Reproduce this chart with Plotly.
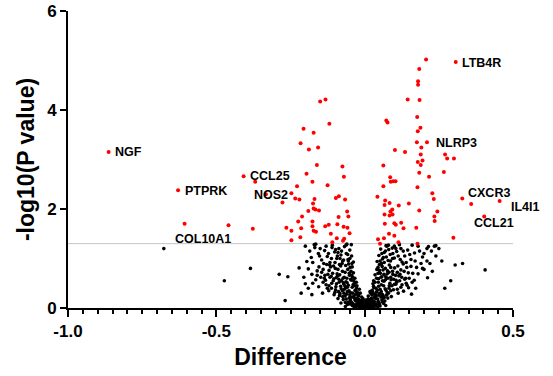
import plotly.graph_objects as go

# ---------------- data ----------------
gene_names = ["NGF", "PTPRK", "COL10A1", "CCL25", "NOS2", "LTB4R", "NLRP3", "CXCR3", "IL4I1", "CCL21"]
gene_x = [-0.863, -0.629, -0.607, -0.408, -0.333, 0.307, 0.210, 0.329, 0.455, 0.403]
gene_y = [3.15, 2.38, 1.70, 2.66, 2.30, 4.97, 3.35, 2.21, 2.16, 1.85]

red_x = [-0.459, -0.377, -0.369, -0.150, -0.132, -0.119, -0.206, -0.172, -0.216, -0.188, -0.157, -0.161,
         -0.075, -0.070, -0.196, -0.176, -0.125, -0.228, -0.247, -0.277, -0.234, -0.220, -0.169, -0.174,
         -0.097, -0.087, -0.066, -0.172, -0.166, -0.154, -0.190, -0.211, -0.059, -0.055, -0.088, -0.224,
         -0.176, -0.264, -0.247, -0.214, -0.176, -0.133, -0.121, -0.092, -0.071, -0.058, -0.172, -0.164,
         -0.114, -0.051, -0.217, -0.247, -0.094, -0.069, -0.109, -0.073,
         0.207, 0.184, 0.180, 0.180, 0.145, 0.185, 0.073, 0.077, 0.177, 0.188, 0.179, 0.176, 0.191, 0.102,
         0.136, 0.189, 0.195, 0.179, 0.189, 0.063, 0.267, 0.271, 0.278, 0.301, 0.184, 0.217, 0.086, 0.088,
         0.096, 0.104, 0.063, 0.178, 0.228, 0.043, 0.233, 0.069, 0.084, 0.067, 0.115, 0.149, 0.093, 0.087,
         0.184, 0.245, 0.067, 0.084, 0.094, 0.235, 0.236, 0.100, 0.105, 0.123, 0.068, 0.131, 0.174, 0.082,
         0.100, 0.065, 0.045, 0.114, 0.178, 0.052, 0.359, 0.299]
red_y = [1.67, 1.60, 2.55, 4.17, 4.21, 3.72, 3.62, 3.54, 3.33, 3.20, 3.24, 2.89,
         2.86, 2.65, 2.71, 2.55, 2.48, 2.46, 2.32, 2.13, 2.21, 2.19, 2.20, 2.11,
         2.22, 2.26, 2.19, 2.01, 1.99, 1.97, 1.96, 1.85, 1.95, 1.85, 1.84, 1.75,
         1.75, 1.62, 1.56, 1.61, 1.65, 1.65, 1.68, 1.69, 1.64, 1.62, 1.56, 1.54,
         1.50, 1.51, 1.43, 1.37, 1.41, 1.40, 1.33, 1.36,
         5.02, 4.83, 4.58, 4.51, 4.21, 4.20, 3.79, 3.75, 3.86, 3.64, 3.57, 3.35, 3.24, 3.19,
         3.15, 3.10, 2.98, 2.95, 2.89, 2.88, 2.75, 3.10, 3.02, 3.02, 2.73, 2.65, 2.64, 2.55,
         2.56, 2.56, 2.46, 2.44, 2.32, 2.25, 2.20, 2.17, 2.12, 2.08, 2.07, 2.11, 1.99, 1.95,
         1.97, 1.95, 1.89, 1.87, 1.89, 1.85, 1.76, 1.71, 1.68, 1.72, 1.70, 1.61, 1.62, 1.50,
         1.46, 1.41, 1.39, 1.33, 1.30, 1.30, 2.10, 1.42]

black_x = [
    -0.045, -0.038, -0.032, -0.028, -0.024, -0.020, -0.017, -0.014, -0.011, -0.008, -0.005, -0.003, 0.000,
    0.003, 0.006, 0.009, 0.012, 0.015, 0.018, 0.021, 0.025, 0.029, 0.033, 0.037, 0.041, 0.046, 0.052,
    -0.052, -0.058, 0.058, -0.065, 0.064, -0.072, 0.071, -0.080, 0.078, -0.006, 0.002, -0.013, 0.011,
    -0.035, 0.027, 0.044,
    -0.010, -0.015, -0.022, -0.030, -0.036, -0.042, -0.048, -0.055, -0.061, -0.068, -0.074, -0.081,
    -0.088, -0.095, -0.103, -0.112, -0.121, -0.130, -0.142, -0.155, -0.026, -0.050, -0.064, -0.085, -0.098,
    0.012, 0.018, 0.024, 0.031, 0.037, 0.043, 0.050, 0.056, 0.062, 0.069, 0.076, 0.083, 0.090, 0.097,
    0.105, 0.113, 0.122, 0.131, 0.143, 0.158, 0.172, 0.028, 0.047, 0.066, 0.088,
    -0.028, -0.033, -0.038, -0.045, -0.051, -0.057, -0.063, -0.069, -0.075, -0.081, -0.087, -0.093,
    -0.099, -0.106, -0.113, -0.120, -0.128, -0.136, -0.145, -0.154, -0.165, -0.178, -0.190, -0.205,
    -0.042, -0.054, -0.072, -0.096, -0.118, -0.140,
    0.030, 0.035, 0.041, 0.047, 0.053, 0.059, 0.065, 0.071, 0.077, 0.083, 0.089, 0.095, 0.101, 0.108,
    0.115, 0.122, 0.130, 0.138, 0.147, 0.156, 0.167, 0.180, 0.195, 0.212, 0.228, 0.050, 0.062, 0.085,
    0.110, 0.142,
    -0.038, -0.044, -0.050, -0.056, -0.062, -0.068, -0.074, -0.080, -0.087, -0.094, -0.101, -0.109,
    -0.117, -0.126, -0.135, -0.145, -0.156, -0.168, -0.180, -0.195, -0.045, -0.060, -0.063, -0.170, -0.165,
    0.042, 0.048, 0.054, 0.060, 0.066, 0.072, 0.079, 0.086, 0.093, 0.100, 0.108, 0.117, 0.126, 0.135,
    0.145, 0.156, 0.168, 0.180, 0.195, 0.210, 0.225, 0.235, 0.240, 0.215, 0.250,
    -0.677, -0.385, -0.473, -0.288, -0.259, -0.268, -0.221, -0.214, -0.178, -0.200,
    0.305, 0.406, 0.330, 0.290, 0.260, 0.270,
    -0.020, -0.025, -0.018, -0.030, -0.027, -0.035, -0.040, -0.046, -0.052, -0.033, -0.037, -0.044,
    -0.049, -0.055, -0.060, -0.066, -0.058, -0.070, -0.078, -0.084, -0.090, -0.076, -0.083, -0.090,
    -0.100, -0.108, -0.115, -0.120, -0.132, -0.124, -0.148, -0.160, -0.110, -0.130, -0.150,
    -0.012, -0.009, -0.004, 0.001, 0.004, 0.008, 0.013, 0.017, 0.020, 0.023, -0.016, -0.021, -0.026,
    -0.030, -0.034, -0.040, -0.043, -0.048, 0.030, 0.035, 0.039, 0.044, 0.049, 0.055, -0.001, 0.005,
    -0.007, 0.010, -0.018, 0.016, 0.022, -0.023, 0.031, -0.055, 0.060, -0.062, 0.068, -0.070, 0.074,
    0.020, 0.025, 0.030, 0.035, 0.040, 0.045, 0.050, 0.055, 0.060, 0.065, 0.070, 0.057, 0.063, 0.070,
    0.078, 0.082, 0.088, 0.092, 0.098, 0.104, 0.110, 0.118, 0.125, 0.133, 0.140, 0.150, 0.162, 0.175,
    0.190, 0.200, 0.095, 0.105, 0.130, 0.160, 0.185, 0.120, 0.075, 0.080,
    -0.032, -0.039, -0.047, -0.053, -0.059, -0.066, -0.073, -0.079, -0.086, -0.092, -0.097, -0.104,
    -0.111, -0.117, -0.126, -0.134, -0.043, -0.050, -0.057, -0.064, -0.071, -0.078, -0.085, -0.092,
    -0.098, -0.105, -0.112, -0.122, -0.138, -0.152, -0.175, -0.185, -0.140, -0.160, -0.175, -0.190,
    -0.200, -0.030, -0.040, -0.050, -0.058, -0.066, -0.075, -0.083, -0.090, -0.100, -0.065, -0.050,
    -0.042, -0.021, -0.016, -0.026, -0.010, -0.007,
    0.027, 0.033, 0.038, 0.046, 0.052, 0.058, 0.064, 0.070, 0.076, 0.082, 0.088, 0.094, 0.100, 0.106,
    0.112, 0.119, 0.126, 0.135, 0.148, 0.160, 0.045, 0.052, 0.058, 0.066, 0.073, 0.081, 0.087, 0.094,
    0.100, 0.113, 0.122, 0.140, 0.152, 0.170, 0.200, 0.220, 0.240, 0.210, 0.025, 0.032, 0.040, 0.048,
    0.056, 0.063, 0.072, 0.080, 0.060, 0.050, 0.038, 0.019, 0.014, 0.026, 0.008, 0.004]
black_y = [
    0.12, 0.06, 0.15, 0.03, 0.09, 0.18, 0.05, 0.11, 0.02, 0.07, 0.14, 0.04, 0.01,
    0.08, 0.03, 0.12, 0.05, 0.17, 0.02, 0.10, 0.06, 0.14, 0.03, 0.19, 0.08, 0.13, 0.04,
    0.20, 0.07, 0.16, 0.03, 0.09, 0.17, 0.05, 0.10, 0.20, 0.19, 0.16, 0.01, 0.18,
    0.01, 0.01, 0.02,
    0.22, 0.30, 0.26, 0.35, 0.24, 0.42, 0.31, 0.46, 0.28, 0.38, 0.23, 0.44,
    0.33, 0.49, 0.27, 0.40, 0.35, 0.47, 0.30, 0.43, 0.45, 0.21, 0.41, 0.25, 0.37,
    0.24, 0.33, 0.27, 0.41, 0.22, 0.36, 0.29, 0.47, 0.25, 0.39, 0.31, 0.45, 0.23, 0.37,
    0.48, 0.30, 0.42, 0.34, 0.46, 0.28, 0.40, 0.49, 0.44, 0.21, 0.35,
    0.52, 0.60, 0.71, 0.56, 0.66, 0.78, 0.53, 0.62, 0.74, 0.85, 0.58, 0.69,
    0.80, 0.55, 0.64, 0.76, 0.88, 0.60, 0.72, 0.83, 0.57, 0.68, 0.79, 0.62,
    0.83, 0.89, 0.51, 0.61, 0.87, 0.52,
    0.55, 0.67, 0.78, 0.59, 0.70, 0.84, 0.54, 0.63, 0.75, 0.87, 0.57, 0.68, 0.81, 0.52,
    0.65, 0.77, 0.89, 0.60, 0.71, 0.84, 0.56, 0.69, 0.80, 0.61, 0.74, 0.88, 0.77, 0.50,
    0.72, 0.82,
    0.93, 1.05, 1.17, 0.98, 1.10, 1.24, 0.95, 1.07, 1.20, 1.00, 1.13, 1.27,
    0.92, 1.04, 1.16, 0.97, 1.10, 1.22, 1.02, 0.94, 1.28, 1.29, 1.27, 1.28, 1.29,
    0.94, 1.06, 1.19, 0.99, 1.12, 1.26, 0.96, 1.08, 1.21, 1.01, 1.14, 1.28, 0.93, 1.05,
    1.17, 0.98, 1.11, 1.25, 1.03, 0.95, 1.15, 1.25, 1.26, 1.24, 1.20,
    1.20, 0.80, 0.55, 0.68, 0.63, 0.15, 0.81, 0.30, 0.27, 0.49,
    0.87, 0.77, 0.90, 0.55, 0.95, 0.40,
    0.25, 0.32, 0.38, 0.28, 0.40, 0.50, 0.62, 0.74, 0.70, 0.45, 0.55, 0.66,
    0.82, 0.95, 0.60, 0.72, 0.42, 0.48, 0.55, 0.67, 0.78, 0.90, 1.00, 1.12,
    0.92, 0.70, 0.83, 0.45, 0.56, 0.68, 0.62, 0.75, 1.22, 1.25, 1.20,
    0.05, 0.10, 0.08, 0.04, 0.12, 0.07, 0.10, 0.06, 0.14, 0.20, 0.15, 0.09, 0.13,
    0.07, 0.19, 0.09, 0.22, 0.16, 0.09, 0.12, 0.25, 0.18, 0.10, 0.22, 0.02, 0.01,
    0.03, 0.02, 0.02, 0.03, 0.04, 0.05, 0.05, 0.12, 0.27, 0.18, 0.14, 0.30, 0.26,
    0.30, 0.36, 0.44, 0.52, 0.60, 0.70, 0.76, 0.62, 0.55, 0.68, 0.80, 0.90, 1.02, 1.15,
    0.60, 0.72, 0.82, 0.45, 0.58, 0.66, 0.38, 0.55, 0.62, 0.74, 0.50, 0.60, 0.70, 0.82,
    0.90, 1.10, 1.10, 1.20, 1.15, 1.27, 1.15, 0.98, 1.25, 1.27,
    0.36, 0.47, 0.58, 0.35, 0.51, 0.44, 0.60, 0.39, 0.52, 0.64, 0.43, 0.59,
    0.50, 0.62, 0.40, 0.66, 0.90, 1.00, 1.08, 0.86, 0.97, 1.15, 0.88, 1.05,
    1.18, 0.85, 1.00, 1.10, 0.90, 1.05, 0.92, 1.15, 0.78, 0.66, 0.50, 0.40,
    1.25, 0.18, 0.30, 0.27, 0.33, 0.24, 0.35, 0.29, 0.19, 0.32, 0.11, 0.08,
    0.05, 0.12, 0.08, 0.20, 0.15, 0.10,
    0.33, 0.28, 0.40, 0.52, 0.38, 0.63, 0.45, 0.57, 0.69, 0.40, 0.62, 0.74, 0.48, 0.56,
    0.85, 0.68, 0.47, 0.58, 0.41, 0.52, 0.82, 0.95, 1.10, 0.92, 1.03, 1.18, 0.95, 1.00,
    1.25, 1.05, 1.20, 0.92, 1.08, 0.95, 0.78, 0.90, 1.05, 1.20, 0.18, 0.22, 0.32, 0.26,
    0.33, 0.20, 0.36, 0.30, 0.12, 0.07, 0.05, 0.11, 0.07, 0.13, 0.15, 0.06]

threshold = 1.3
x_tickvals = [-1.0, -0.5, 0.0, 0.5]
x_ticktext = ["-1.0", "-0.5", "0.0", "0.5"]
y_tickvals = [0, 2, 4, 6]

# label offsets in pixels (style only)
label_offsets = {
    "NGF": (4, 0, "left"), "PTPRK": (5, -1, "left"), "COL10A1": (-12, -15, "left"),
    "CCL25": (4, 0, "left"), "NOS2": (-14, -1, "left"), "LTB4R": (4, -1, "left"),
    "NLRP3": (7, -1, "left"), "CXCR3": (4, 6, "left"), "IL4I1": (9, -6, "left"),
    "CCL21": (-12, -7, "left"),
}

FONT = "Liberation Sans, Arial, sans-serif"

fig = go.Figure()
fig.add_shape(type="line", xref="x", yref="y", x0=x_tickvals[0], x1=x_tickvals[-1],
              y0=threshold, y1=threshold, line=dict(color="#c4c4c4", width=1), layer="below")
fig.add_trace(go.Scatter(x=black_x, y=black_y, mode="markers", cliponaxis=False,
                         marker=dict(color="black", size=3.6, line=dict(width=0)), showlegend=False))
fig.add_trace(go.Scatter(x=red_x + gene_x, y=red_y + gene_y, mode="markers", cliponaxis=False,
                         marker=dict(color="#ff0000", size=4, line=dict(width=0)), showlegend=False))

for name, gx, gy in zip(gene_names, gene_x, gene_y):
    dx, dy, anc = label_offsets[name]
    fig.add_annotation(x=gx, y=gy, text="<b>" + name + "</b>", showarrow=False,
                       xanchor=anc, yanchor="middle", xshift=dx, yshift=dy,
                       font=dict(family=FONT, size=12.5, color="black"))

fig.update_layout(
    width=553, height=376,
    margin=dict(l=68, r=40, t=11, b=68, autoexpand=False),
    paper_bgcolor="white", plot_bgcolor="white",
    font=dict(family=FONT, color="black"),
    xaxis=dict(range=[-1.0, 0.5], showgrid=False, zeroline=False, showline=True, automargin=False,
               linecolor="black", linewidth=2, ticks="outside", ticklen=7, tickwidth=2,
               tickcolor="black", tickvals=x_tickvals, ticktext=x_ticktext,
               tickfont=dict(family=FONT, size=17, weight="bold"),
               minor=dict(dtick=0.05, tick0=0, ticks="outside", ticklen=4, tickwidth=1.5,
                          tickcolor="black", showgrid=False),
               title=dict(text="<b>Difference</b>", font=dict(family=FONT, size=23), standoff=8)),
    yaxis=dict(range=[0, 6], showgrid=False, zeroline=False, showline=True, automargin=False,
               linecolor="black", linewidth=2, ticks="outside", ticklen=6, tickwidth=2,
               tickcolor="black", tickvals=y_tickvals,
               tickfont=dict(family=FONT, size=17, weight="bold"),
               title=dict(text="<b>-log10(P value)</b>", font=dict(family=FONT, size=23), standoff=6)),
)

fig.write_html("out.html", config={"displayModeBar": False},
               post_script="document.body.style.margin='0';document.body.style.overflow='hidden';")
